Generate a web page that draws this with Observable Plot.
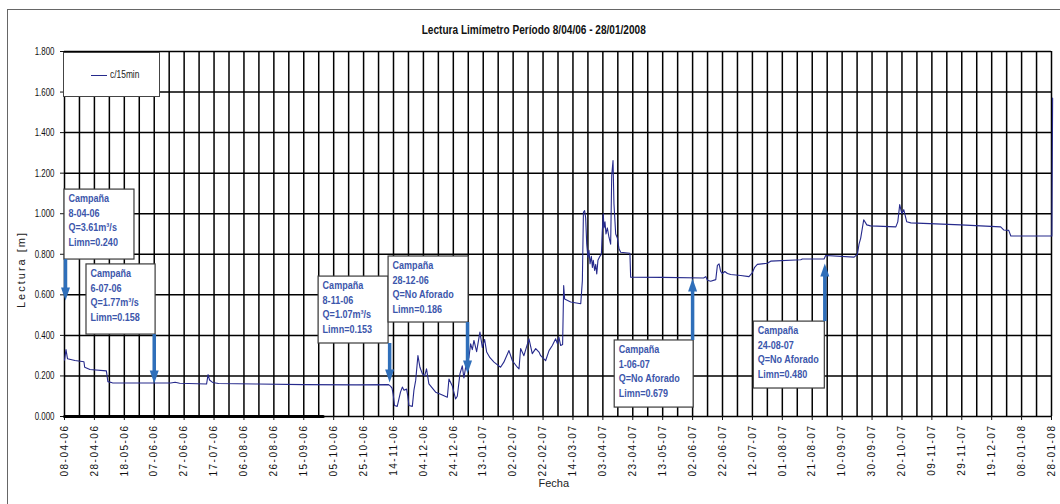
<!DOCTYPE html>
<html>
<head>
<meta charset="utf-8">
<script src="https://cdn.jsdelivr.net/npm/d3@7"></script>
<script src="https://cdn.jsdelivr.net/npm/@observablehq/plot@0.6"></script>
<style>
  body { margin: 0; background: #fff; overflow: hidden; }
  #wrap { position: relative; width: 1060px; height: 504px; overflow: hidden; background: #fff; }
  #marco { position: absolute; left: 7px; top: 9px; width: 1100px; height: 600px; border: 1px solid #666; pointer-events: none; }
  #leyenda { position: absolute; left: 63px; top: 52px; width: 97px; height: 45px; background: #fff; border: 1px solid #444; box-sizing: border-box; }
  #leyenda .muestra { position: absolute; left: 27px; top: 22px; width: 16px; height: 0; border-top: 1.2px solid #262a8c; }
  #leyenda .texto { position: absolute; left: 46px; top: 16px; font: 10px "Liberation Sans", Arial, sans-serif; color: #222;
                    transform: scaleX(0.84); transform-origin: left center; }
  svg [aria-label="x-axis tick label"] text { letter-spacing: 1.5px; }
</style>
</head>
<body>
<div id="wrap">
  <div id="marco"></div>
</div>
<script>
// Lectura del limnímetro cada 15 minutos (m)
const fechas = [
  "2006-04-08","2006-04-09","2006-04-10","2006-04-15","2006-04-21","2006-04-21T12","2006-04-25","2006-05-06","2006-05-07","2006-05-10",
  "2006-06-18","2006-06-21","2006-06-24","2006-07-12","2006-07-13","2006-07-14","2006-07-16","2006-07-20","2006-08-15","2006-09-15","2006-10-20","2006-11-10T17",
  "2006-11-12","2006-11-13","2006-11-13T18","2006-11-14T16","2006-11-16T12","2006-11-18T16","2006-11-19T22","2006-11-21","2006-11-22T18","2006-11-23T14",
  "2006-11-24T08","2006-11-26T14","2006-11-27T16","2006-11-28T20","2006-11-30T08","2006-12-01T16","2006-12-03T08","2006-12-04T20","2006-12-06T02","2006-12-07T16",
  "2006-12-10","2006-12-12T04","2006-12-15T12","2006-12-20","2006-12-21T02","2006-12-23T08","2006-12-25T12","2006-12-26T16","2006-12-28T10","2006-12-30",
  "2006-12-31T02","2007-01-01T04",
  "2007-01-03T10","2007-01-04T14","2007-01-05T17","2007-01-06T19","2007-01-08T14","2007-01-10T19","2007-01-12T10","2007-01-13T22","2007-01-15T07","2007-01-17T12",
  "2007-01-20T05","2007-01-24T14","2007-01-26T19","2007-01-30T05","2007-02-01T12","2007-02-04T19","2007-02-05T22","2007-02-07","2007-02-09T05","2007-02-12T14",
  "2007-02-14T19","2007-02-17T02","2007-02-19T07","2007-02-20T10","2007-02-23T17","2007-02-26","2007-02-28T05","2007-03-02T10","2007-03-03T14","2007-03-04T14",
  "2007-03-05T19","2007-03-07T02","2007-03-07T19","2007-03-08T10","2007-03-12T12","2007-03-19T05","2007-03-20T07","2007-03-21","2007-03-21T19","2007-03-22T12",
  "2007-03-23T05","2007-03-24","2007-03-24T17","2007-03-25T10","2007-03-26T07","2007-03-27","2007-03-27T14","2007-03-28T12","2007-03-29T05","2007-03-29T22",
  "2007-03-30T17","2007-04-01","2007-04-02","2007-04-02T14","2007-04-03T07","2007-04-03T17","2007-04-04T10","2007-04-05T02","2007-04-06","2007-04-07T02",
  "2007-04-08T05","2007-04-08T22","2007-04-09T19","2007-04-10T10","2007-04-11T14","2007-04-12T17","2007-04-13T19","2007-04-14T22","2007-04-21T02","2007-04-21T14",
  "2007-05-13","2007-06-09T10","2007-06-10T19","2007-06-11T22","2007-06-14T02","2007-06-17T12","2007-06-18T14","2007-06-19T17","2007-06-20T19","2007-06-21T22",
  "2007-06-23T12","2007-06-25T07","2007-06-27T12","2007-07-04T05","2007-07-09T17","2007-07-12","2007-07-13T12","2007-07-15T07","2007-07-22","2007-07-24T05",
  "2007-08-13T07","2007-08-14T10","2007-08-28T22","2007-08-30","2007-09-18","2007-09-20T05","2007-09-21T07","2007-09-22T10","2007-09-24T10","2007-09-26T12",
  "2007-09-29","2007-10-15T22","2007-10-17T05","2007-10-18T12","2007-10-19T22","2007-10-21T05","2007-10-23T05","2007-10-25T22","2007-11-28T07","2007-12-25",
  "2007-12-27","2007-12-30T10","2007-12-31T19","2008-01-28T06","2008-01-28T18"
];
const lecturas = [
  0.278,0.330,0.285,0.276,0.270,0.243,0.232,0.225,0.172,0.166,
  0.165,0.169,0.164,0.160,0.207,0.180,0.168,0.163,0.160,0.157,0.156,0.157,
  0.150,0.140,0.112,0.054,0.050,0.120,0.145,0.130,0.135,0.100,
  0.054,0.050,0.130,0.178,0.300,0.243,0.210,0.200,0.235,0.161,
  0.140,0.120,0.110,0.095,0.185,0.150,0.087,0.100,0.210,0.250,
  0.190,0.240,
  0.290,0.358,0.330,0.375,0.320,0.416,0.340,0.380,0.318,0.290,
  0.268,0.243,0.268,0.325,0.275,0.243,0.235,0.335,0.300,0.383,
  0.310,0.335,0.318,0.300,0.275,0.325,0.350,0.383,0.360,0.391,
  0.350,0.355,0.646,0.580,0.565,0.556,0.670,1.007,1.015,0.980,
  0.850,0.786,0.820,0.753,0.790,0.735,0.770,0.720,0.750,0.703,
  0.770,0.790,0.800,0.909,1.000,0.930,0.960,0.900,0.930,0.884,
  0.850,1.188,1.262,1.049,0.900,0.880,0.827,0.810,0.805,0.687,
  0.686,0.683,0.690,0.672,0.667,0.675,0.745,0.753,0.715,0.705,
  0.715,0.705,0.700,0.695,0.690,0.710,0.736,0.750,0.756,0.766,
  0.773,0.777,0.777,0.794,0.786,0.800,0.850,0.880,0.970,0.945,
  0.940,0.935,0.960,1.045,1.000,1.020,0.960,0.955,0.945,0.935,
  0.920,0.918,0.890,0.890,1.570
];

// Serie auxiliar en cero (tramo inicial)
const fechasCero = ["2006-04-08", "2006-09-28"];
const valoresCero = [0, 0];

// Campañas de aforo
const campanas = ["8-04-06", "6-07-06", "8-11-06", "28-12-06", "1-06-07", "24-08-07"];
const caudales = ["3.61m³/s", "1.77m³/s", "1.07m³/s", "No Aforado", "No Aforado", "No Aforado"];
const limnimetro = ["0.240", "0.158", "0.153", "0.186", "0.679", "0.480"];

// Ubicación de cada cuadro y su flecha, en unidades del gráfico
const flechaFecha = ["2006-04-08T16", "2006-06-07", "2006-11-11T10", "2007-01-02T12", "2007-06-02", "2007-08-29T10"];
const flechaDesde = [0.774, 0.404, 0.360, 0.4635, 0.375, 0.468];
const flechaHasta = [0.572, 0.163, 0.168, 0.212, 0.680, 0.754];
const cajaDesde = ["2006-04-08", "2006-04-22T17", "2006-09-24T22", "2006-11-10T17", "2007-04-10T22", "2007-07-12T22"];
const cajaHasta = ["2006-05-24T19", "2006-06-07T22", "2006-11-10T17", "2007-01-03T05", "2007-06-02T17", "2007-08-29T10"];
const cajaAbajo = [0.774, 0.404, 0.360, 0.4635, 0.044, 0.138];
const cajaArriba = [1.119, 0.750, 0.690, 0.789, 0.375, 0.468];

const yTicks = [0, 0.2, 0.4, 0.6, 0.8, 1.0, 1.2, 1.4, 1.6, 1.8];
const inicio = "2006-04-08", ultimoTick = "2008-01-28", fin = "2008-01-29";

const titulo = "Lectura Limímetro Período 8/04/06 - 28/01/2008";
const tituloX = "Fecha";
const tituloY = "Lectura [m]";

const parseHora = d3.utcParse("%Y-%m-%dT%H");
const parseDia = d3.utcParse("%Y-%m-%d");
const fecha = s => s.length > 10 ? parseHora(s) : parseDia(s);

const serie = fechas.map((f, i) => ({fecha: fecha(f), lectura: lecturas[i]}));
const ceros = fechasCero.map((f, i) => ({fecha: fecha(f), lectura: valoresCero[i]}));
const notas = campanas.map((c, i) => ({
  lineas: ["Campaña", c, `Q=${caudales[i]}`, `Limn=${limnimetro[i]}`],
  x1: fecha(cajaDesde[i]), x2: fecha(cajaHasta[i]),
  y1: cajaAbajo[i], y2: cajaArriba[i],
  fx: fecha(flechaFecha[i]), desde: flechaDesde[i], hasta: flechaHasta[i],
  baja: flechaHasta[i] < flechaDesde[i]
}));
// the shaft stops at the base of the head
notas.forEach(n => { n.base = n.baja ? n.hasta + 0.055 : n.hasta - 0.055; });

const x0 = fecha(inicio), xTope = fecha(ultimoTick), x1 = fecha(fin);
const ticksX = d3.utcDay.range(x0, d3.utcDay.offset(xTope, 1), 20);
const gridX = d3.utcDay.range(x0, d3.utcDay.offset(xTope, 1), 10);

const azulFlecha = "#2f6fba";
const azulTexto = "#3c56ab";

const puntaAbajo = {draw(ctx) { ctx.moveTo(0, 0); ctx.lineTo(-4.5, -13); ctx.lineTo(4.5, -13); ctx.closePath(); }};
const puntaArriba = {draw(ctx) { ctx.moveTo(0, 0); ctx.lineTo(-4.5, 13); ctx.lineTo(4.5, 13); ctx.closePath(); }};

// one text mark per line of each callout
const lineasNota = [0, 1, 2, 3].map(k =>
  Plot.text(notas, {x: "x1", y: "y2", text: d => d.lineas[k], textAnchor: "start", lineAnchor: "top",
                    dx: 4, dy: 5 + k * 14.5, fontSize: 11, fontWeight: "bold",
                    fill: azulTexto, ariaDescription: "nota"})
);

const chart = Plot.plot({
  width: 1060,
  height: 504,
  marginLeft: 64,
  marginRight: 7.5,
  marginTop: 51,
  marginBottom: 88,
  x: {type: "utc", domain: [x0, x1]},
  y: {domain: [0, 1.8]},
  style: {fontFamily: "'Liberation Sans', Arial, sans-serif", background: "transparent", color: "#111"},
  marks: [
    Plot.ruleX(gridX, {stroke: "#000", strokeWidth: 1.5}),
    Plot.ruleY(yTicks, {x1: x0, x2: xTope, stroke: "#000", strokeWidth: 1.5}),
    Plot.axisY({ticks: yTicks, tickFormat: d3.format(".3f"), tickSize: 4, tickPadding: 6,
                fontSize: 11, label: null}),
    Plot.axisX({ticks: ticksX, tickFormat: d3.utcFormat("%d-%m-%y"), tickRotate: -90,
                tickSize: 4, tickPadding: 4, fontSize: 10, label: null}),
    Plot.line(ceros, {x: "fecha", y: "lectura", stroke: "#000", strokeWidth: 3}),
    Plot.line(serie, {x: "fecha", y: "lectura", stroke: "#262a8c", strokeWidth: 1.1}),
    // callout boxes
    Plot.rect(notas, {x1: "x1", x2: "x2", y1: "y1", y2: "y2", fill: "#fff", stroke: "#3a3a3a", strokeWidth: 1.2}),
    ...lineasNota,
    // arrows
    Plot.ruleX(notas, {x: "fx", y1: "desde", y2: "base", stroke: azulFlecha, strokeWidth: 3.5}),
    Plot.dot(notas.filter(n => n.baja), {x: "fx", y: "hasta", symbol: puntaAbajo, fill: azulFlecha}),
    Plot.dot(notas.filter(n => !n.baja), {x: "fx", y: "hasta", symbol: puntaArriba, fill: azulFlecha}),
    // titles
    Plot.text([titulo], {frameAnchor: "top", dx: -25, dy: -26, fontSize: 12, fontWeight: "bold",
                         fill: "#111", ariaDescription: "titulo"}),
    Plot.text([tituloX], {frameAnchor: "bottom", dx: -5, dy: 70, fontSize: 11, fill: "#222"}),
    Plot.text([{x: x0, y: 0.725}], {x: "x", y: "y", text: () => tituloY, dx: -43, rotate: -90,
                                    fontSize: 11, fill: "#222", ariaDescription: "tituloY"})
  ]
});

const wrap = document.getElementById("wrap");
wrap.insertBefore(chart, wrap.firstChild);
chart.style.position = "absolute";
chart.style.left = "0";
chart.style.top = "0";

// condensed lettering, as in the printed chart
function estrechar(sel, factor) {
  d3.select(chart).selectAll(sel).each(function() {
    const largo = this.getComputedTextLength();
    if (largo > 0) {
      this.setAttribute("textLength", (largo * factor).toFixed(1));
      this.setAttribute("lengthAdjust", "spacingAndGlyphs");
    }
  });
}
estrechar('g[aria-description="nota"] text', 0.82);
estrechar('g[aria-description="titulo"] text', 0.84);
estrechar('[aria-label="y-axis tick label"] text', 0.72);
d3.select(chart).selectAll('g[aria-description="tituloY"] text').style("letter-spacing", "2px");

const leyenda = document.createElement("div");
leyenda.id = "leyenda";
leyenda.innerHTML = '<div class="muestra"></div><div class="texto">c/15min</div>';
wrap.appendChild(leyenda);
</script>
</body>
</html>
